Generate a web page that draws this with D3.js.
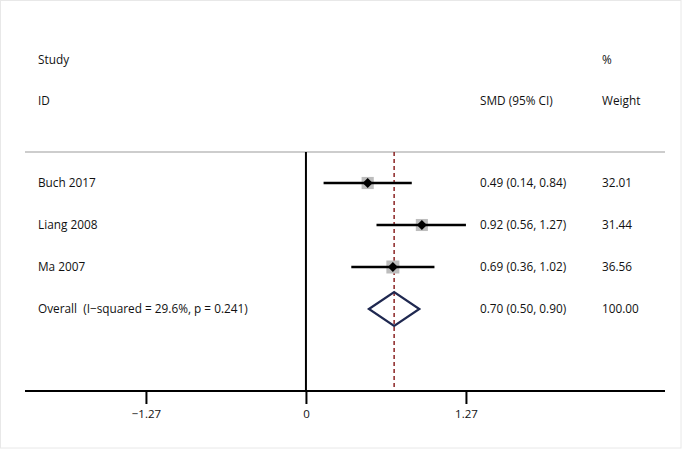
<!DOCTYPE html>
<html><head><meta charset="utf-8">
<script src="https://cdn.jsdelivr.net/npm/d3@7"></script>
<style>body{margin:0;background:#fff}svg{display:block}text{font-family:"Open Sans",sans-serif;font-size:11.8px;fill:#111}</style>
</head><body>
<script>
const studies = ["Buch 2017", "Liang 2008", "Ma 2007"];
const smd = [0.49, 0.92, 0.69];
const lower = [0.14, 0.56, 0.36];
const upper = [0.84, 1.27, 1.02];
const weights = ["32.01", "31.44", "36.56"];
const weightVals = [32.01, 31.44, 36.56];
const overallLabel = "Overall  (I\u2212squared = 29.6%, p = 0.241)";
const overall = {est: 0.70, lo: 0.50, hi: 0.90, weight: "100.00"};
const tickVals = [-1.27, 0, 1.27];
const tickLabels = ["\u22121.27", "0", "1.27"];

const W = 682, H = 449;
const svg = d3.select("body").append("svg").attr("width", W).attr("height", H);
svg.append("rect").attr("x",0.5).attr("y",0.5).attr("width",W-1.5).attr("height",H-1.5)
  .attr("fill","none").attr("stroke","#e8e8e8");

const xs = d3.scaleLinear().domain([-2.23, 2.85]).range([25, 665]);
const rowNames = studies.concat(["Overall"]);
const y = d3.scalePoint().domain(rowNames).range([183, 309]);
const axisY = 391, topY = 152;
const c1 = 38, c2 = 480, c3 = 602;

// header
svg.append("text").attr("x",c1).attr("y",64).text("Study");
svg.append("text").attr("x",c1).attr("y",105).text("ID");
svg.append("text").attr("x",c2).attr("y",105).text("SMD (95% CI)");
svg.append("text").attr("x",c3).attr("y",64).text("%");
svg.append("text").attr("x",c3).attr("y",105).text("Weight");
svg.append("line").attr("x1",25).attr("x2",665).attr("y1",topY).attr("y2",topY)
  .attr("stroke","#bdbdbd").attr("stroke-width",1.5);

// null line
svg.append("line").attr("x1",xs(0)).attr("x2",xs(0)).attr("y1",topY).attr("y2",axisY)
  .attr("stroke","#000").attr("stroke-width",2);
// overall dashed line
svg.append("line").attr("x1",xs(overall.est)).attr("x2",xs(overall.est)).attr("y1",topY).attr("y2",axisY)
  .attr("stroke","#8b2323").attr("stroke-width",1.5).attr("stroke-dasharray","4,3");

// axis
const axis = d3.axisBottom(xs).tickValues(tickVals).tickFormat((d,i)=>tickLabels[i]).tickSize(13).tickPadding(6);
const ag = svg.append("g").attr("transform",`translate(0,${axisY})`).call(axis);
ag.select(".domain").remove();
ag.selectAll(".tick line").attr("stroke","#000").attr("stroke-width",2);
ag.selectAll(".tick text").style("font-family","'Open Sans',sans-serif").style("font-size","11.5px").attr("fill","#111");
svg.append("line").attr("x1",25).attr("x2",665).attr("y1",axisY).attr("y2",axisY)
  .attr("stroke","#000").attr("stroke-width",2);

// studies
const sizeScale = d3.scaleSqrt().domain([0, 36.56]).range([0, 13]);
studies.forEach((s,i)=>{
  const yy = y(s);
  svg.append("text").attr("x",c1).attr("y",yy+4).text(s);
  const sz = sizeScale(weightVals[i]);
  svg.append("rect").attr("x",xs(smd[i])-sz/2).attr("y",yy-sz/2).attr("width",sz).attr("height",sz).attr("fill","#bdbdbd");
  svg.append("line").attr("x1",xs(lower[i])).attr("x2",xs(upper[i])).attr("y1",yy).attr("y2",yy)
    .attr("stroke","#000").attr("stroke-width",2.5);
  const d = 5;
  svg.append("path").attr("d",`M${xs(smd[i])-d},${yy}L${xs(smd[i])},${yy-d}L${xs(smd[i])+d},${yy}L${xs(smd[i])},${yy+d}Z`).attr("fill","#000");
  svg.append("text").attr("x",c2).attr("y",yy+4).text(`${smd[i].toFixed(2)} (${lower[i].toFixed(2)}, ${upper[i].toFixed(2)})`);
  svg.append("text").attr("x",c3).attr("y",yy+4).text(weights[i]);
});

// overall
const oy = y("Overall");
svg.append("text").attr("x",c1).attr("y",oy+4).style("white-space","pre").text(overallLabel);
svg.append("path").attr("d",`M${xs(overall.lo)},${oy}L${xs(overall.est)},${oy-17}L${xs(overall.hi)},${oy}L${xs(overall.est)},${oy+17}Z`)
  .attr("fill","none").attr("stroke","#1f2850").attr("stroke-width",2.2);
svg.append("text").attr("x",c2).attr("y",oy+4).text(`${overall.est.toFixed(2)} (${overall.lo.toFixed(2)}, ${overall.hi.toFixed(2)})`);
svg.append("text").attr("x",c3).attr("y",oy+4).text(overall.weight);
</script>
</body></html>
